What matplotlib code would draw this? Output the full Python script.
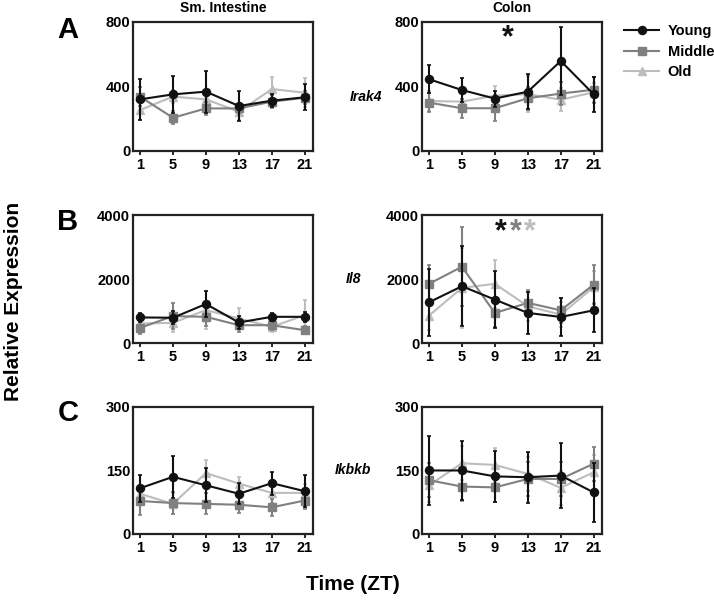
import matplotlib
matplotlib.use("Agg")
import matplotlib.pyplot as plt
from matplotlib.lines import Line2D

plt.rcParams['font.family'] = ['Liberation Sans', 'DejaVu Sans']
plt.rcParams['font.weight'] = 'bold'

zt = [1, 5, 9, 13, 17, 21]
groups = ["Young", "Middle", "Old"]
colors = {"Young": "#111111", "Middle": "#808080", "Old": "#bdbdbd"}
markers = {"Young": "o", "Middle": "s", "Old": "^"}

genes = ["Irak4", "Il8", "Ikbkb"]
ylims = {"Irak4": 800, "Il8": 4000, "Ikbkb": 300}
yticks = {"Irak4": [0, 400, 800], "Il8": [0, 2000, 4000], "Ikbkb": [0, 150, 300]}

# Sm. Intestine
si_irak4_young = [320, 351, 368, 279, 312, 333]
si_irak4_young_err = [125, 115, 130, 90, 40, 80]
si_irak4_middle = [337, 206, 264, 264, 306, 330]
si_irak4_middle_err = [60, 40, 40, 30, 40, 40]
si_irak4_old = [254, 337, 320, 244, 384, 361]
si_irak4_old_err = [60, 40, 40, 50, 77, 90]

si_il8_young = [800, 790, 1219, 642, 819, 819]
si_il8_young_err = [150, 200, 410, 200, 130, 150]
si_il8_middle = [473, 841, 819, 557, 557, 400]
si_il8_middle_err = [200, 400, 300, 200, 150, 120]
si_il8_old = [611, 630, 1030, 768, 504, 872]
si_il8_old_err = [250, 300, 600, 320, 150, 470]

si_ikbkb_young = [108, 135, 115, 95, 120, 101]
si_ikbkb_young_err = [32, 50, 40, 25, 27, 38]
si_ikbkb_middle = [78, 73, 71, 69, 63, 79]
si_ikbkb_middle_err = [34, 25, 25, 20, 20, 20]
si_ikbkb_old = [95, 71, 144, 119, 97, 97]
si_ikbkb_old_err = [20, 25, 30, 16, 25, 20]

# Colon
co_irak4_young = [445, 378, 325, 368, 558, 351]
co_irak4_young_err = [86, 77, 50, 108, 210, 110]
co_irak4_middle = [300, 265, 265, 327, 356, 380]
co_irak4_middle_err = [60, 60, 80, 70, 70, 80]
co_irak4_old = [310, 306, 343, 353, 318, 364]
co_irak4_old_err = [60, 60, 60, 110, 70, 60]

co_il8_young = [1273, 1774, 1357, 940, 815, 1022]
co_il8_young_err = [1040, 1250, 900, 650, 600, 690]
co_il8_middle = [1850, 2383, 940, 1254, 1022, 1828]
co_il8_middle_err = [600, 1240, 450, 400, 400, 620]
co_il8_old = [856, 1724, 1850, 1149, 887, 1750]
co_il8_old_err = [450, 1250, 760, 450, 400, 500]

co_ikbkb_young = [150, 150, 136, 134, 138, 98]
co_ikbkb_young_err = [82, 70, 60, 60, 76, 69]
co_ikbkb_middle = [127, 112, 110, 130, 130, 166]
co_ikbkb_middle_err = [40, 35, 35, 40, 40, 40]
co_ikbkb_old = [115, 167, 163, 142, 109, 146]
co_ikbkb_old_err = [40, 40, 40, 40, 40, 40]

data = {
    ("si", "Irak4"): [(si_irak4_young, si_irak4_young_err), (si_irak4_middle, si_irak4_middle_err), (si_irak4_old, si_irak4_old_err)],
    ("si", "Il8"): [(si_il8_young, si_il8_young_err), (si_il8_middle, si_il8_middle_err), (si_il8_old, si_il8_old_err)],
    ("si", "Ikbkb"): [(si_ikbkb_young, si_ikbkb_young_err), (si_ikbkb_middle, si_ikbkb_middle_err), (si_ikbkb_old, si_ikbkb_old_err)],
    ("co", "Irak4"): [(co_irak4_young, co_irak4_young_err), (co_irak4_middle, co_irak4_middle_err), (co_irak4_old, co_irak4_old_err)],
    ("co", "Il8"): [(co_il8_young, co_il8_young_err), (co_il8_middle, co_il8_middle_err), (co_il8_old, co_il8_old_err)],
    ("co", "Ikbkb"): [(co_ikbkb_young, co_ikbkb_young_err), (co_ikbkb_middle, co_ikbkb_middle_err), (co_ikbkb_old, co_ikbkb_old_err)],
}

fig = plt.figure(figsize=(7.14, 6.02), dpi=100)

col_left = {"si": 0.1863, "co": 0.591}
col_w = 0.2521
row_pos = {"Irak4": (0.7492, 0.2143), "Il8": (0.4302, 0.2126), "Ikbkb": (0.113, 0.211)}

MS = 5.8
axes = {}
for tissue in ["si", "co"]:
    for gene in genes:
        b, h = row_pos[gene]
        ax = fig.add_axes([col_left[tissue], b, col_w, h])
        axes[(tissue, gene)] = ax
        for gi in [2, 1, 0]:
            g = groups[gi]
            vals, errs = data[(tissue, gene)][gi]
            ax.errorbar(zt, vals, yerr=errs, color=colors[g], marker=markers[g],
                        markersize=MS, linewidth=1.5, elinewidth=1.5, capsize=1.5,
                        capthick=1.2, zorder=3 - gi * 0.1)
        ax.set_xlim(0.15, 22)
        ax.set_ylim(0, ylims[gene])
        ax.set_xticks(zt)
        ax.set_yticks(yticks[gene])
        ax.tick_params(axis='both', labelsize=10.5, width=1.2, length=3, pad=2)
        ax.tick_params(axis='y', length=0)
        for lab in ax.get_xticklabels() + ax.get_yticklabels():
            lab.set_fontweight('bold')
        for s in ax.spines.values():
            s.set_linewidth(1.6)
            s.set_color('#222222')

axes[("si", "Irak4")].set_title("Sm. Intestine", fontsize=10, fontweight='bold', pad=7)
axes[("co", "Irak4")].set_title("Colon", fontsize=10, fontweight='bold', pad=7)

# gene labels
fig.text(366 / 714, 1 - 97 / 602, "Irak4", fontsize=10, fontweight='bold', style='italic', ha='center', va='center')
fig.text(353 / 714, 1 - 279 / 602, "Il8", fontsize=10, fontweight='bold', style='italic', ha='center', va='center')
fig.text(353 / 714, 1 - 470 / 602, "Ikbkb", fontsize=10, fontweight='bold', style='italic', ha='center', va='center')

# panel letters
for letter, yp in [("A", 30), ("B", 222), ("C", 413)]:
    fig.text(68 / 714, 1 - yp / 602, letter, fontsize=21, fontweight='bold', ha='center', va='center')

fig.text(14 / 714, 0.5, "Relative Expression", fontsize=15, fontweight='bold', rotation=90, ha='center', va='center')
fig.text(353 / 714, 1 - 585 / 602, "Time (ZT)", fontsize=15, fontweight='bold', ha='center', va='center')

# significance asterisks
axes[("co", "Irak4")].text(10.6, 700, "*", fontsize=22, fontweight='bold', color=colors["Young"], ha='center', va='center')
for xx, g in zip([9.7, 11.5, 13.2], groups):
    axes[("co", "Il8")].text(xx, 3450, "*", fontsize=22, fontweight='bold', color=colors[g], ha='center', va='center')

# legend
handles = [Line2D([], [], color=colors[g], marker=markers[g], markersize=MS, linewidth=1.5) for g in groups]
fig.legend(handles, groups, loc='upper left',
           bbox_to_anchor=(0.874, 0.96), frameon=False, prop={'size': 10.5, 'weight': 'bold'},
           handlelength=2.4, handletextpad=0.6, labelspacing=0.45, borderaxespad=0, borderpad=0)

fig.savefig("out.png", dpi=100)
